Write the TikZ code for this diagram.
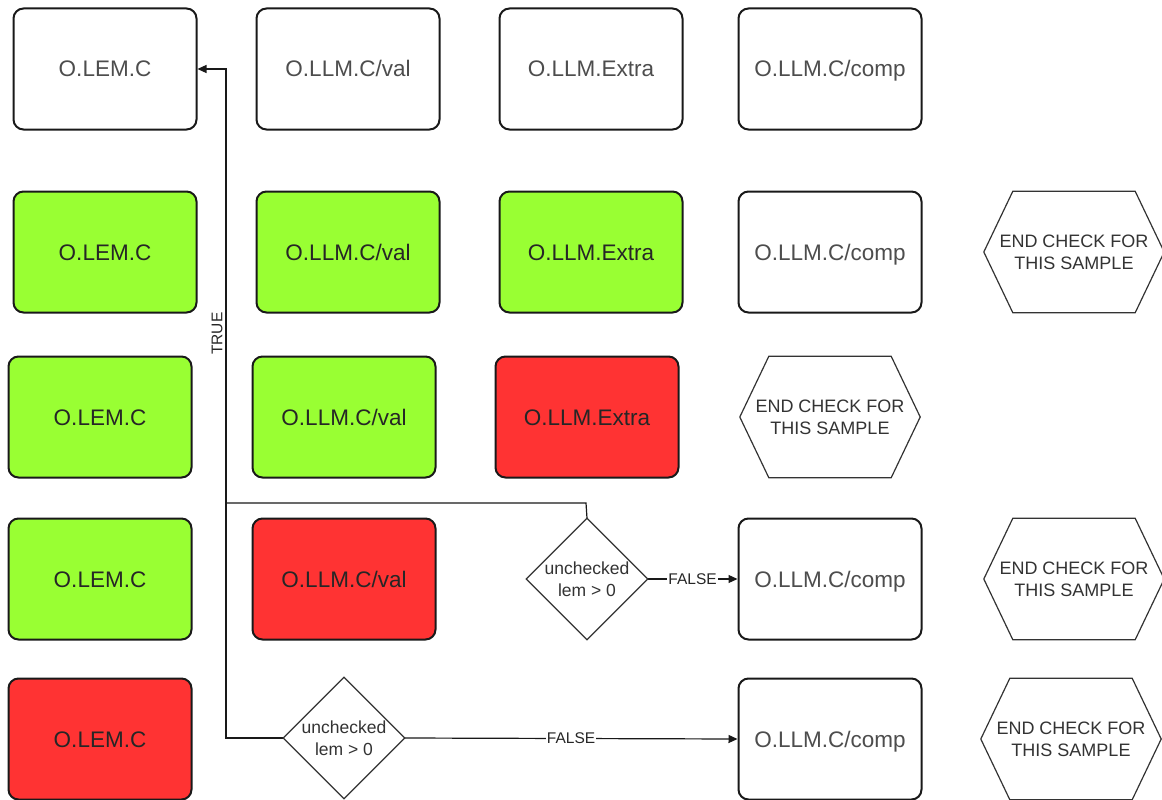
\documentclass[tikz,border=0pt]{standalone}
\usepackage{fontspec}
\setmainfont{Liberation Sans}
\usetikzlibrary{arrows.meta}
\definecolor{okgreen}{HTML}{99FF33}
\definecolor{badred}{HTML}{FF3333}
\definecolor{boxtext}{HTML}{4D4D4D}
\definecolor{edgegray}{HTML}{333333}
\tikzset{
  x=1pt, y=-1pt,
  card/.style={draw=black!90, line width=2pt, rounded corners=10pt,
    minimum width=183pt, minimum height=121pt, inner sep=0pt,
    text height=16pt, text depth=0pt,
    font=\fontsize{22.5}{26}\selectfont},
  plain/.style={card, fill=white, text=boxtext},
  pass/.style={card, fill=okgreen, text=black!85},
  fail/.style={card, fill=badred, text=black!85},
  hexbox/.style={minimum width=180pt, minimum height=121pt, inner sep=0pt,
    align=center, text=edgegray, font=\fontsize{18}{22}\selectfont},
  decbox/.style={minimum width=121pt, minimum height=121pt, inner sep=0pt,
    align=center, text=edgegray, font=\fontsize{17.5}{22}\selectfont},
  outline/.style={draw=edgegray, line width=1.2pt, line join=miter},
  flow/.style={draw=black!90, line width=1.2pt},
  tip/.style={-{Triangle[length=9pt,width=8pt]}},
  lbl/.style={fill=white, inner sep=1pt, text=black!85, font=\fontsize{15.5}{18}\selectfont},
  sidelbl/.style={inner sep=3pt, text=black!85, font=\fontsize{15.5}{18}\selectfont},
}
\newcommand{\hexoutline}[1]{%
  \draw[outline] ([xshift=29pt]#1.north west) -- ([xshift=-29pt]#1.north east)
    -- (#1.east) -- ([xshift=-29pt]#1.south east) -- ([xshift=29pt]#1.south west)
    -- (#1.west) -- cycle;}
\newcommand{\diaoutline}[1]{%
  \draw[outline, fill=white] (#1.north) -- (#1.east) -- (#1.south) -- (#1.west) -- cycle;}
\begin{document}
\begin{tikzpicture}
\useasboundingbox[fill=white] (0,0) rectangle (1162,800);

% row 1
\node[plain] (a1) at (105,69) {O.LEM.C};
\node[plain] (a2) at (348,69) {O.LLM.C/val};
\node[plain] (a3) at (591,69) {O.LLM.Extra};
\node[plain] (a4) at (830,69) {O.LLM.C/comp};

% row 2
\node[pass] (b1) at (105,252) {O.LEM.C};
\node[pass] (b2) at (348,252) {O.LLM.C/val};
\node[pass] (b3) at (591,252) {O.LLM.Extra};
\node[plain] (b4) at (830,252) {O.LLM.C/comp};
\node[hexbox] (bh) at (1074,252) {END CHECK FOR\\THIS SAMPLE};
\hexoutline{bh}

% row 3
\node[pass] (c1) at (100,417) {O.LEM.C};
\node[pass] (c2) at (344,417) {O.LLM.C/val};
\node[fail] (c3) at (587,417) {O.LLM.Extra};
\node[hexbox] (ch) at (830,417) {END CHECK FOR\\THIS SAMPLE};
\hexoutline{ch}

% row 4
\node[pass] (d1) at (100,579) {O.LEM.C};
\node[fail] (d2) at (344,579) {O.LLM.C/val};
\node[plain] (d4) at (830,579) {O.LLM.C/comp};
\node[hexbox] (dh) at (1074,579) {END CHECK FOR\\THIS SAMPLE};
\hexoutline{dh}

% row 5
\node[fail] (e1) at (100,739) {O.LEM.C};
\node[plain] (e4) at (830,739) {O.LLM.C/comp};
\node[hexbox] (eh) at (1071,739) {END CHECK FOR\\THIS SAMPLE};
\hexoutline{eh}

% decision connectors
\coordinate (lane) at (226,503);
\coordinate (turn) at (586,503);
\coordinate (bend) at (226,69);

\node[decbox] (q1) at (587,579) {};
\node[decbox] (q2) at (344,738) {};

\draw[flow] (q1.north) -- (turn) -- (lane);
\draw[flow, tip] (q2.west) -| (lane) -- (bend)
  node[pos=0.39, sidelbl, rotate=90, anchor=south] {TRUE} -- (a1.east);
\draw[flow, tip] (q1.east) -- (d4.west) node[midway, lbl] {FALSE};
\draw[flow, tip] (q2.east) -- (e4.west) node[pos=0.5, lbl] {FALSE};

\diaoutline{q1}
\diaoutline{q2}
\node[decbox] at (q1) {unchecked\\lem > 0};
\node[decbox] at (q2) {unchecked\\lem > 0};
\end{tikzpicture}
\end{document}
